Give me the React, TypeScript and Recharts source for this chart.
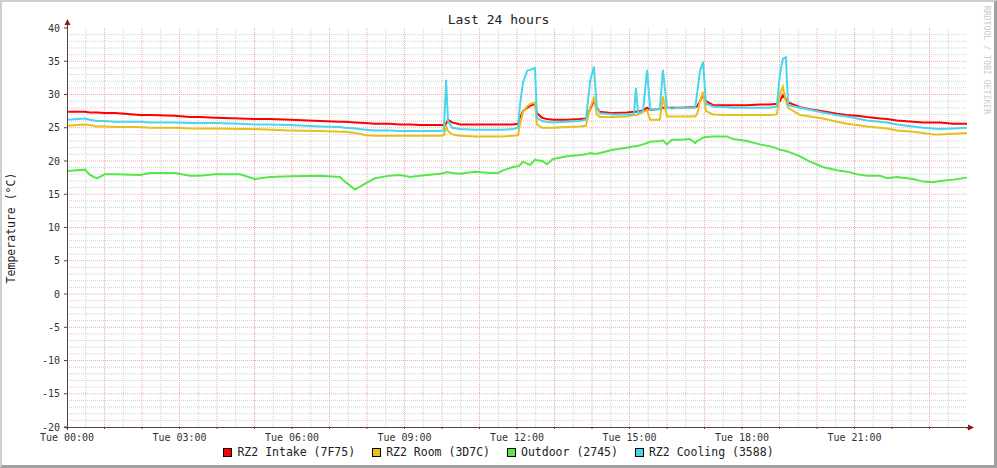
import React from "react";
import { LineChart, Line, XAxis, YAxis, CartesianGrid } from "recharts";

// time in hours since Tue 00:00
const hours = [
  0.0, 0.48, 0.61, 0.8, 1.01, 1.28, 1.95, 2.21, 2.88, 3.28, 3.55, 3.95, 4.61, 5.01, 5.41, 5.95,
  6.75, 7.28, 7.41, 7.68, 7.95, 8.21, 8.61, 8.88, 9.15, 9.41, 9.95, 10.05, 10.11, 10.16, 10.27,
  10.48, 10.88, 11.28, 11.49, 11.63, 11.89, 12.03, 12.08, 12.16, 12.27, 12.35, 12.48, 12.53,
  12.67, 12.8, 12.96, 13.33, 13.68, 13.84, 13.95, 14.05, 14.13, 14.21, 14.56, 14.93, 15.12,
  15.17, 15.23, 15.36, 15.47, 15.55, 15.81, 15.89, 16.0, 16.13, 16.35, 16.61, 16.75, 16.8,
  16.88, 16.96, 17.04, 17.23, 17.6, 17.76, 18.13, 18.48, 18.75, 18.93, 19.01, 19.09, 19.17,
  19.23, 19.55, 19.81, 20.16, 20.53, 20.8, 21.07, 21.33, 21.68, 21.87, 22.13, 22.56, 22.83,
  23.09, 23.28, 23.63, 24.0,
];

const intake = [
  27.4, 27.4, 27.3, 27.3, 27.2, 27.2, 26.9, 26.9, 26.8, 26.6, 26.6, 26.5, 26.4, 26.3, 26.3, 26.2,
  26.0, 25.9, 25.9, 25.8, 25.7, 25.6, 25.6, 25.5, 25.5, 25.4, 25.4, 25.4, 25.6, 26.2, 25.8,
  25.5, 25.5, 25.5, 25.5, 25.5, 25.5, 25.6, 26.5, 27.5, 28.0, 28.3, 28.6, 27.2,
  26.5, 26.3, 26.2, 26.2, 26.3, 26.4, 27.8, 29.0, 28.0, 27.4, 27.2, 27.3, 27.4,
  27.4, 27.5, 27.6, 28.0, 27.7, 27.8, 28.0, 28.0, 28.0, 28.0, 28.1, 28.1, 28.2,
  29.0, 29.9, 29.0, 28.4, 28.4, 28.4, 28.4, 28.5, 28.5, 28.6, 29.0, 29.9, 29.3,
  28.8, 28.1, 27.8, 27.5, 27.1, 26.9, 26.8, 26.6, 26.4, 26.3, 26.1, 25.9, 25.8,
  25.8, 25.8, 25.6, 25.6,
];

const room = [
  25.3, 25.5, 25.4, 25.2, 25.2, 25.1, 25.1, 25.0, 25.0, 24.9, 24.9, 24.9, 24.8, 24.8, 24.7, 24.6,
  24.5, 24.4, 24.4, 24.2, 23.9, 23.8, 23.8, 23.8, 23.8, 23.8, 23.8, 23.9, 25.2, 24.5, 24.0,
  23.8, 23.7, 23.7, 23.7, 23.7, 23.8, 23.9, 25.5, 27.4, 28.2, 28.6, 28.8, 25.5,
  25.0, 25.0, 25.0, 25.1, 25.2, 25.3, 28.0, 29.5, 27.0, 26.6, 26.6, 26.7, 26.9,
  26.9, 27.0, 27.4, 27.6, 26.2, 26.2, 29.7, 26.7, 26.7, 26.7, 26.7, 26.7, 27.0,
  29.0, 30.4, 27.5, 27.0, 26.9, 26.9, 26.9, 26.9, 26.9, 27.0, 30.0, 31.2, 29.0,
  28.0, 26.9, 26.7, 26.4, 25.9, 25.6, 25.4, 25.2, 25.0, 24.9, 24.6, 24.4, 24.2,
  24.0, 24.0, 24.1, 24.2,
];

const outdoor = [
  18.5, 18.7, 17.9, 17.4, 18.0, 18.0, 17.9, 18.2, 18.2, 17.8, 17.8, 18.0, 18.0, 17.3, 17.6, 17.7,
  17.8, 17.6, 16.9, 15.7, 16.6, 17.4, 17.8, 17.9, 17.6, 17.8, 18.1, 18.2, 18.3, 18.3, 18.2,
  18.1, 18.4, 18.2, 18.2, 18.6, 19.1, 19.2, 19.4, 19.9, 19.6, 19.4, 20.2, 20.1,
  20.0, 19.5, 20.3, 20.7, 20.9, 21.0, 21.2, 21.1, 21.1, 21.2, 21.7, 22.0, 22.2,
  22.2, 22.3, 22.5, 22.7, 22.9, 23.0, 23.1, 22.5, 23.2, 23.2, 23.3, 22.7, 23.0,
  23.2, 23.5, 23.6, 23.7, 23.7, 23.3, 23.0, 22.5, 22.2, 21.9, 21.7, 21.6, 21.5,
  21.4, 20.7, 19.9, 19.1, 18.6, 18.4, 18.0, 17.8, 17.8, 17.4, 17.6, 17.3, 16.9,
  16.8, 17.0, 17.2, 17.5,
];

const cooling = [
  26.2, 26.4, 26.2, 26.0, 26.0, 25.9, 25.9, 25.8, 25.8, 25.7, 25.7, 25.7, 25.6, 25.5, 25.5, 25.4,
  25.2, 25.1, 25.0, 24.9, 24.7, 24.6, 24.6, 24.5, 24.5, 24.5, 24.5, 24.6, 32.2, 26.0, 25.0,
  24.8, 24.7, 24.7, 24.7, 24.7, 24.8, 25.0, 28.5, 31.8, 33.6, 33.7, 34.0, 26.5,
  26.0, 25.9, 25.8, 25.9, 26.0, 26.2, 32.0, 34.2, 28.0, 27.2, 27.0, 27.0, 27.0,
  31.0, 27.2, 27.5, 33.7, 27.8, 27.8, 33.7, 28.0, 27.9, 28.0, 28.0, 28.0, 30.0,
  33.5, 34.9, 28.6, 28.2, 28.1, 28.0, 28.0, 28.0, 28.0, 28.2, 33.0, 35.4, 35.6,
  28.4, 28.0, 27.7, 27.3, 26.9, 26.7, 26.4, 26.1, 25.9, 25.8, 25.5, 25.2, 25.0,
  24.9, 24.8, 24.9, 25.0,
];

const xLabels = ["Tue 00:00", "Tue 03:00", "Tue 06:00", "Tue 09:00", "Tue 12:00", "Tue 15:00", "Tue 18:00", "Tue 21:00"];
const yTicks = [-20, -15, -10, -5, 0, 5, 10, 15, 20, 25, 30, 35, 40];

const seriesNames = ["RZ2 Intake (7F75)", "RZ2 Room (3D7C)", "Outdoor (2745)", "RZ2 Cooling (3588)"];
const seriesKeys = ["intake", "room", "outdoor", "cooling"];
const seriesColors = ["#ff0000", "#e8bf1f", "#55e847", "#48d6ec"];

const X_DOMAIN = [0, 24];
const Y_DOMAIN = [-20, 40];

const hourTicks = Array.from({ length: 25 }, (_, i) => i);
const majorHours = hourTicks.slice(1, 24);
const minorHours = hourTicks.slice(0, 24).map((h) => h + 0.5);
const minorTemps = Array.from({ length: 61 }, (_, i) => i - 20).filter((t) => t % 5 !== 0);
const majorTemps = yTicks.slice(1, -1);

const data = hours.map((h, i) => ({
  h,
  intake: intake[i],
  room: room[i],
  outdoor: outdoor[i],
  cooling: cooling[i],
}));

const FONT = "'DejaVu Sans Mono', monospace";

const formatHour = (h: number) => {
  if (h % 3 !== 0 || h >= 24) return "";
  return xLabels[h / 3];
};

// grid helpers: map domain values onto the plot area that recharts hands us
const xGrid = (values: number[]) => ({ offset }: any) =>
  values.map((v) => offset.left + ((v - X_DOMAIN[0]) / (X_DOMAIN[1] - X_DOMAIN[0])) * offset.width);
const yGrid = (values: number[]) => ({ offset }: any) =>
  values.map((v) => offset.top + ((Y_DOMAIN[1] - v) / (Y_DOMAIN[1] - Y_DOMAIN[0])) * offset.height);

export default function App() {
  return (
    <div
      style={{
        position: "absolute",
        left: 0,
        top: 0,
        width: 997,
        height: 468,
        boxSizing: "border-box",
        background: "#ffffff",
        borderTop: "2px solid #cfcfcf",
        borderLeft: "2px solid #cfcfcf",
        borderRight: "3px solid #a0a0a0",
        borderBottom: "3px solid #a0a0a0",
        fontFamily: FONT,
      }}
    >
      <div style={{ position: "absolute", left: -2, top: -2, width: 997, height: 468 }}>
        <div
          style={{
            position: "absolute",
            left: 0,
            width: 997,
            top: 12,
            textAlign: "center",
            fontSize: 13,
            color: "#222",
          }}
        >
          Last 24 hours
        </div>
        <div
          style={{
            position: "absolute",
            left: 11,
            top: 228,
            transform: "translate(-50%, -50%) rotate(-90deg)",
            fontSize: 11.5,
            color: "#222",
            whiteSpace: "nowrap",
          }}
        >
          Temperature (°C)
        </div>
        <div
          style={{
            position: "absolute",
            left: 987,
            top: 60,
            transform: "translate(-50%, -50%) rotate(90deg)",
            fontSize: 8.2,
            color: "#cacaca",
            whiteSpace: "nowrap",
          }}
        >
          RRDTOOL / TOBI OETIKER
        </div>

        <LineChart
          width={997}
          height={468}
          data={data}
          margin={{ top: 28, right: 30, bottom: 21, left: 27 }}
        >
          <CartesianGrid
            stroke="#d2d2d2"
            strokeDasharray="1 1"
            verticalCoordinatesGenerator={xGrid(minorHours)}
            horizontalCoordinatesGenerator={yGrid(minorTemps)}
          />
          <CartesianGrid
            stroke="#f2a8a8"
            strokeDasharray="1 1"
            verticalCoordinatesGenerator={xGrid(majorHours)}
            horizontalCoordinatesGenerator={yGrid(majorTemps)}
          />
          <XAxis
            dataKey="h"
            type="number"
            domain={X_DOMAIN}
            ticks={hourTicks}
            interval={0}
            tickFormatter={formatHour}
            height={20}
            axisLine={false}
            tickLine={{ stroke: "#5a4040" }}
            tickSize={2}
            tickMargin={5}
            tick={{ fontSize: 10, fill: "#333", fontFamily: FONT }}
          />
          <YAxis
            type="number"
            domain={Y_DOMAIN}
            ticks={yTicks}
            interval={0}
            width={40}
            axisLine={false}
            tickLine={{ stroke: "#5a4040" }}
            tickSize={3}
            tickMargin={4}
            tick={{ fontSize: 10, fill: "#333", fontFamily: FONT }}
          />
          {seriesKeys.map((k, i) => (
            <Line
              key={k}
              dataKey={k}
              type="linear"
              stroke={seriesColors[i]}
              strokeWidth={2}
              dot={false}
              isAnimationActive={false}
            />
          ))}
        </LineChart>

        <svg
          width={997}
          height={468}
          style={{ position: "absolute", left: 0, top: 0, pointerEvents: "none" }}
        >
          <line x1={67.5} y1={430} x2={67.5} y2={24} stroke="#5a4040" strokeWidth={1} />
          <line x1={64} y1={427.5} x2={970} y2={427.5} stroke="#5a4040" strokeWidth={1} />
          <polygon points="64.5,25 70.5,25 67.5,19" fill="#8b1a1a" />
          <polygon points="968,424.5 968,430.5 974,427.5" fill="#8b1a1a" />
        </svg>

        <div
          style={{
            position: "absolute",
            left: 0,
            width: 997,
            top: 445,
            display: "flex",
            justifyContent: "center",
            fontSize: 11.5,
            color: "#222",
          }}
        >
          {seriesNames.map((name, i) => (
            <div key={name} style={{ display: "flex", alignItems: "center", marginRight: i < 3 ? 17 : 0 }}>
              <span
                style={{
                  display: "inline-block",
                  width: 9,
                  height: 9,
                  boxSizing: "border-box",
                  border: "1px solid #000",
                  background: seriesColors[i],
                  marginRight: 5,
                }}
              />
              <span>{name}</span>
            </div>
          ))}
        </div>
      </div>
    </div>
  );
}
